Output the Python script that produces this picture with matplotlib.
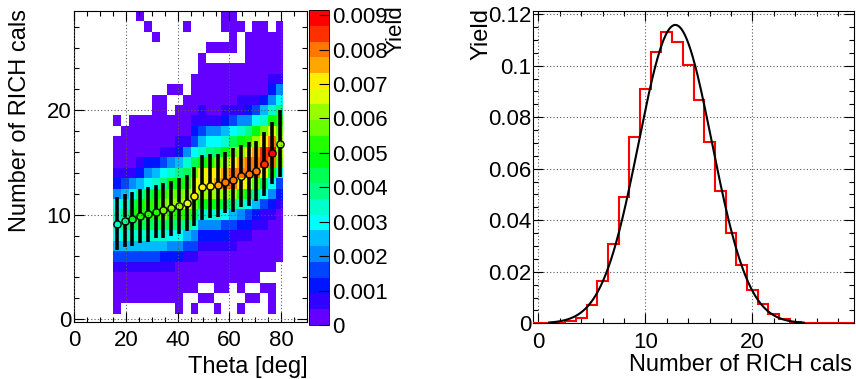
import numpy as np
import matplotlib
matplotlib.use('Agg')
import matplotlib.pyplot as plt
from matplotlib.colors import ListedColormap, BoundaryNorm
from matplotlib.ticker import MultipleLocator, FixedLocator
import colorsys

plt.rcParams['font.family'] = ['Liberation Sans', 'DejaVu Sans']

W, H = 856, 379

# ---- left panel data: 2D yield map, theta bins of 3 deg, RICH cal rows 1..29 ----
theta_edges = np.arange(15, 82, 3)
ncal_rows = np.arange(1, 30)
z_max = 0.00915
n_levels = 20

# colour band per theta bin (rows 1..29, bottom to top), 0 = empty
level_cols = [
    [1,1,1,1,2,4,6,7,8,8,7,5,3,2,1,1,1,0,1,0,0,0,0,0,0,0,0,0,0],
    [0,1,1,1,2,4,6,8,9,9,8,6,4,2,1,1,1,1,0,0,0,0,0,0,0,0,0,0,0],
    [0,1,1,1,2,4,6,8,10,11,10,7,5,2,1,1,1,1,1,0,0,0,0,0,0,0,0,0,0],
    [0,1,1,1,2,4,6,8,10,12,11,9,6,3,2,1,1,1,1,0,0,0,0,0,0,0,0,0,1],
    [0,1,1,1,2,4,6,8,10,12,12,10,7,5,3,1,1,1,1,0,0,0,0,0,0,0,0,1,0],
    [0,1,1,1,2,4,6,8,10,12,12,11,8,6,3,1,1,1,1,1,1,0,0,0,0,0,1,0,0],
    [0,1,1,1,2,3,6,8,10,13,13,12,9,7,4,2,1,1,1,1,1,0,0,0,0,0,0,0,0],
    [0,1,1,1,2,3,5,7,10,12,14,13,11,8,5,2,1,1,1,0,0,1,0,0,0,0,0,0,0],
    [1,1,1,1,1,3,5,7,9,12,14,13,11,9,6,3,2,1,1,1,0,1,0,0,0,0,0,0,0],
    [0,0,1,1,1,2,4,6,9,12,15,14,12,10,8,5,2,1,1,1,1,0,0,0,0,0,0,1,0],
    [1,0,1,1,1,2,4,5,8,10,13,16,15,13,10,7,4,3,2,1,1,1,1,0,0,0,0,0,0],
    [0,1,0,1,1,1,2,3,5,8,11,14,16,15,11,8,6,4,2,2,1,1,1,1,1,0,0,0,0],
    [0,1,0,1,1,1,2,3,5,8,11,14,16,16,12,9,7,5,2,1,1,1,1,1,0,1,0,0,0],
    [1,0,1,1,1,1,2,3,5,8,11,14,17,16,13,10,7,5,2,1,1,1,1,1,0,1,0,0,0],
    [0,0,1,1,1,1,2,3,4,7,10,14,18,17,14,11,8,6,3,2,1,1,1,1,0,1,0,1,1],
    [0,0,0,1,1,1,2,2,4,6,9,14,18,18,16,13,10,7,4,2,1,1,1,1,0,1,1,1,1],
    [1,0,1,1,1,1,1,2,3,5,8,12,16,18,17,14,11,8,5,2,2,1,1,1,0,0,0,1,0],
    [0,1,0,1,1,1,1,2,3,4,7,11,15,18,18,15,12,9,5,3,2,1,1,1,1,1,1,0,0],
    [0,1,0,1,1,1,1,1,2,3,6,9,13,18,18,17,14,11,7,4,2,1,1,1,1,1,1,1,0],
    [0,0,1,0,1,1,1,1,2,2,4,7,10,16,19,19,16,13,8,6,3,1,1,1,1,1,1,1,0],
    [1,1,1,0,1,1,1,1,1,2,3,5,7,11,18,20,18,15,11,8,5,3,2,1,1,1,1,0,0],
    [0,0,0,0,0,1,1,1,1,1,2,3,4,8,13,14,14,13,12,9,7,5,2,1,1,1,1,1,0],
]

# profile: mean and spread per theta bin
prof_mean = [9.12, 9.44, 9.60, 9.89, 10.05, 10.27, 10.40, 10.59, 10.85, 11.10, 11.74,
             12.63, 12.76, 12.80, 13.08, 13.33, 13.68, 13.90, 14.16, 14.86, 15.88, 16.78]
prof_spread = [2.55, 2.57, 2.59, 2.60, 2.63, 2.53, 2.63, 2.66, 2.68, 2.68, 2.87,
               3.11, 3.07, 3.00, 2.95, 3.03, 2.98, 3.03, 2.87, 3.03, 2.99, 3.20]

# ---- right panel data: 1D yield and gaussian fit ----
ncal_bins = np.arange(0, 30)
yield_1d = [0.0, 0.0001, 0.0002, 0.0007, 0.0021, 0.0070, 0.0165, 0.0307, 0.0491, 0.0722,
            0.0908, 0.1054, 0.1131, 0.1093, 0.1004, 0.0865, 0.0705, 0.0515, 0.0352, 0.0225,
            0.0131, 0.0074, 0.0038, 0.0017, 0.0004, 0.0001, 0.0001, 0.0001, 0.0001, 0.0]
fit_amp, fit_mean, fit_sigma = 0.1158, 12.8, 3.42
fit_range = (1.0, 24.8)

# ROOT "pretty" violet->red palette, 20 contour bands
hues = [280 - (int((i + 0.99) * 2.5) + 1) * 5.6 for i in range(n_levels)]
pal = [colorsys.hls_to_rgb(max(h, 0) / 360.0, 0.5, 1.0) for h in hues]
cmap = ListedColormap(pal)
cmap.set_bad('white')
bounds = np.linspace(0, z_max, n_levels + 1)
norm = BoundaryNorm(bounds, n_levels)

levels = np.array(level_cols).T  # rows x theta
zvals = np.ma.masked_where(levels == 0, (levels - 0.5) * z_max / n_levels)
row_edges = np.append(ncal_rows - 0.5, ncal_rows[-1] + 0.5)

fig = plt.figure(figsize=(W / 100, H / 100), dpi=100)


def px_axes(x0, y0, x1, y1):
    return fig.add_axes([x0 / W, 1 - y1 / H, (x1 - x0) / W, (y1 - y0) / H])


def root_style(ax, size=16):
    ax.tick_params(which='both', direction='in', top=True, right=True, labelsize=size)
    ax.tick_params(which='major', length=7, width=0.8)
    ax.tick_params(which='minor', length=3.5, width=0.8)
    ax.grid(True, which='major', color='0.35', linestyle=(0, (1, 2)), linewidth=0.8)
    ax.set_axisbelow(False)
    for s in ax.spines.values():
        s.set_linewidth(0.8)


# left panel
axL = px_axes(74.3, 10.5, 306.7, 321.7)
mesh = axL.pcolormesh(theta_edges, row_edges, zvals, cmap=cmap, norm=norm, zorder=1)
axL.set_xlim(0, 90)
axL.set_ylim(-0.25, 29.55)
axL.xaxis.set_major_locator(MultipleLocator(20))
axL.xaxis.set_minor_locator(MultipleLocator(5))
axL.yaxis.set_major_locator(MultipleLocator(10))
axL.yaxis.set_minor_locator(MultipleLocator(2))
root_style(axL)
axL.tick_params(axis='x', pad=6)
axL.tick_params(axis='y', pad=2)

theta_c = (theta_edges[:-1] + theta_edges[1:]) / 2
pm = np.array(prof_mean)
ps = np.array(prof_spread)
gap = 3.3 / (311.2 / 29.8)  # marker radius in data units
axL.vlines(theta_c, pm + gap, pm + ps, color='black', lw=2.6, zorder=3)
axL.vlines(theta_c, pm - ps, pm - gap, color='black', lw=2.6, zorder=3)
axL.plot(theta_c, pm, 'o', ms=5.2, mfc='none', mec='black', mew=1.0, zorder=4)

# colour bar
cax = px_axes(309, 10, 329, 325)
cb = fig.colorbar(mesh, cax=cax, ticks=np.arange(0, 0.0095, 0.001))
cb.ax.set_yticklabels(['0'] + ['%.3f' % v for v in np.arange(0.001, 0.0095, 0.001)])
cb.ax.tick_params(direction='in', length=7, width=0.8, labelsize=16, pad=2)
cb.outline.set_linewidth(0.6)
cb.ax.minorticks_off()

fig.text(308 / W, 1 - 367 / H, 'Theta [deg]', ha='right', va='center', fontsize=17)
fig.text(20 / W, 1 - 9 / H, 'Number of RICH cals', rotation=90, ha='center', va='top', fontsize=17)
fig.text(396 / W, 1 - 5 / H, 'Yield', rotation=90, ha='center', va='top', fontsize=16)

# right panel
axR = px_axes(533, 11, 854, 323.3)
edges = np.append(ncal_bins - 0.5, ncal_bins[-1] + 0.5)
axR.stairs(yield_1d, edges, color='red', lw=1.5, zorder=3)
xf = np.linspace(fit_range[0], fit_range[1], 400)
axR.plot(xf, fit_amp * np.exp(-0.5 * ((xf - fit_mean) / fit_sigma) ** 2), color='black', lw=1.5, zorder=4)
axR.set_xlim(-0.5, 29.5)
axR.set_ylim(0, 0.1212)
axR.xaxis.set_major_locator(MultipleLocator(10))
axR.xaxis.set_minor_locator(MultipleLocator(2))
axR.yaxis.set_major_locator(MultipleLocator(0.02))
axR.yaxis.set_minor_locator(MultipleLocator(0.005))
root_style(axR)
axR.set_yticklabels([])
axR.yaxis.set_major_formatter(matplotlib.ticker.FuncFormatter(lambda v, p: '0' if abs(v) < 1e-9 else ('%.2f' % v).rstrip('0').rstrip('.')))
axR.tick_params(axis='x', pad=6)
axR.tick_params(axis='y', pad=1)

fig.text(852 / W, 1 - 365 / H, 'Number of RICH cals', ha='right', va='center', fontsize=17)
fig.text(481 / W, 1 - 8 / H, 'Yield', rotation=90, ha='center', va='top', fontsize=17)

fig.savefig('out.png', dpi=100)
